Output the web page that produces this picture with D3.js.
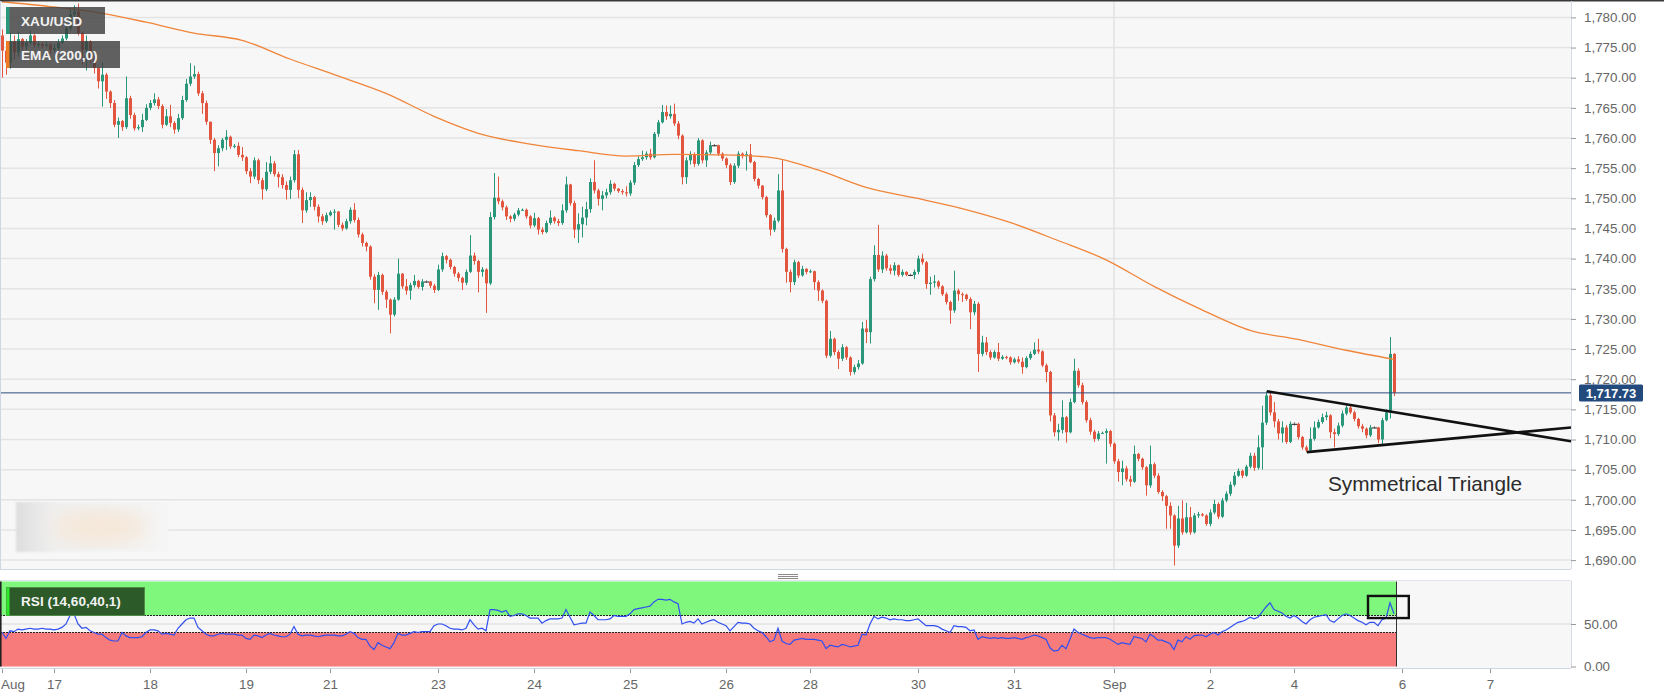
<!DOCTYPE html>
<html>
<head>
<meta charset="utf-8">
<style>
html, body { margin: 0; padding: 0; background: #fff; }
svg { display: block; font-family: "Liberation Sans", Arial, sans-serif; }
</style>
<script src="https://d3js.org/d3.v7.min.js"></script>
</head>
<body>
<svg id="chart" width="1664" height="698"></svg>
<script>
// XAU/USD hourly, EMA(200) and RSI(14)
const firstOpen = 1777.0;
const closes = [
  1774.5,1772.5,1776.0,1774.2,1776.4,1775.2,1775.8,1777.0,1775.4,1775.6, // 0
  1775.3,1775.5,1774.6,1774.9,1775.8,1776.5,1778.2,1780.5,1781.0,1777.4, // 10
  1774.6,1776.0,1773.2,1771.6,1769.4,1770.5,1767.7,1765.8,1762.2,1762.8, // 20
  1761.8,1766.6,1763.8,1761.6,1761.8,1763.0,1765.0,1765.8,1766.4,1765.3, // 30
  1762.2,1763.6,1762.5,1761.4,1763.3,1766.3,1769.0,1770.2,1770.6,1767.4, // 40
  1765.8,1762.7,1759.7,1757.5,1758.3,1759.7,1760.2,1758.6,1758.7,1757.2, // 50
  1756.8,1754.5,1753.6,1756.3,1753.0,1751.5,1754.4,1755.8,1754.0,1753.5, // 60
  1752.2,1751.4,1753.0,1757.3,1751.4,1748.0,1749.7,1750.2,1748.6,1747.0, // 70
  1746.2,1747.2,1747.7,1747.8,1745.6,1745.0,1746.2,1748.1,1746.4,1744.0, // 80
  1742.6,1742.0,1737.0,1734.8,1737.3,1734.5,1733.2,1730.7,1733.2,1737.5, // 90
  1735.4,1734.7,1735.6,1736.3,1735.3,1736.2,1736.2,1735.5,1734.8,1738.2, // 100
  1740.4,1739.8,1738.6,1737.5,1736.8,1736.0,1737.8,1740.5,1739.6,1737.8, // 110
  1738.2,1735.9,1746.9,1750.1,1749.5,1748.5,1747.0,1746.6,1747.3,1748.0, // 120
  1748.1,1747.0,1745.5,1746.7,1744.8,1744.4,1745.9,1746.8,1746.2,1745.9, // 130
  1748.0,1752.3,1749.2,1744.8,1745.7,1746.8,1748.2,1752.7,1751.3,1749.9, // 140
  1750.5,1751.0,1752.4,1751.6,1751.2,1751.0,1750.8,1752.6,1755.5,1756.5, // 150
  1756.8,1757.4,1756.8,1760.7,1762.6,1764.3,1763.6,1764.0,1762.4,1760.4, // 160
  1753.5,1756.3,1757.3,1755.7,1759.6,1756.3,1757.6,1758.8,1758.8,1757.4, // 170
  1756.6,1755.5,1752.7,1755.4,1757.4,1757.0,1757.3,1756.0,1753.2,1752.1, // 180
  1750.2,1747.2,1744.8,1746.3,1751.3,1741.6,1737.8,1736.1,1739.4,1737.2, // 190
  1738.3,1737.8,1737.9,1736.1,1734.7,1733.0,1723.9,1726.7,1724.5,1723.4, // 200
  1725.3,1723.6,1721.2,1722.0,1722.6,1728.4,1727.8,1736.6,1740.6,1738.2, // 210
  1740.5,1738.4,1738.0,1738.9,1737.3,1737.8,1737.3,1737.3,1737.8,1740.0, // 220
  1739.4,1735.8,1736.0,1736.2,1735.4,1734.1,1732.8,1731.4,1734.7,1734.1, // 230
  1734.0,1733.3,1731.1,1732.5,1724.2,1726.1,1724.5,1723.6,1724.5,1723.4, // 240
  1723.7,1723.6,1722.8,1723.3,1722.9,1722.0,1723.5,1724.2,1724.9,1724.6, // 250
  1722.3,1721.2,1714.0,1711.2,1711.6,1713.7,1711.2,1716.2,1721.4,1719.0, // 260
  1716.2,1713.2,1711.3,1710.1,1711.0,1711.1,1711.4,1709.3,1706.4,1704.6, // 270
  1705.2,1703.4,1703.0,1707.6,1706.8,1705.4,1702.4,1705.9,1704.0,1701.3, // 280
  1700.6,1699.0,1697.4,1692.4,1696.9,1694.6,1697.1,1694.6,1697.4,1697.6, // 290
  1697.4,1696.0,1697.9,1699.3,1697.2,1699.9,1701.0,1702.5,1704.0,1704.8, // 300
  1704.0,1705.5,1707.3,1705.3,1708.7,1712.8,1717.3,1714.5,1713.0,1711.0, // 310
  1712.0,1709.6,1712.6,1712.6,1710.4,1708.7,1708.2,1710.1,1712.0,1712.9, // 320
  1713.7,1714.0,1711.2,1710.9,1712.3,1714.3,1715.3,1714.5,1713.4,1712.2, // 330
  1711.8,1710.7,1712.0,1712.0,1710.0,1713.2,1714.5,1724.2,1717.73        // 340
];
const highs = [
  1778.0,1775.0,1777.5,1777.0,1777.6,1776.6,1776.4,1777.8,1777.2,1776.0,
  1775.8,1775.9,1775.8,1775.6,1776.4,1777.0,1778.6,1781.5,1782.0,1782.3,
  1777.6,1777.0,1776.2,1773.6,1771.8,1772.5,1770.8,1767.9,1766.3,1763.4,
  1763.0,1770.2,1767.0,1764.2,1762.2,1764.0,1765.6,1766.3,1767.4,1766.8,
  1765.6,1764.8,1765.5,1762.8,1764.0,1767.0,1769.8,1772.4,1772.0,1771.0,
  1767.8,1766.2,1762.2,1760.0,1758.8,1760.0,1761.3,1760.4,1759.0,1759.3,
  1758.5,1757.0,1755.0,1756.8,1756.6,1753.4,1756.0,1757.0,1756.2,1754.4,
  1754.0,1752.8,1753.6,1758.0,1758.0,1751.8,1751.0,1751.0,1750.4,1749.0,
  1747.4,1747.6,1748.0,1748.2,1747.9,1746.0,1746.6,1748.5,1749.2,1746.8,
  1744.3,1742.8,1742.2,1737.4,1737.8,1737.5,1734.8,1733.4,1733.6,1740.0,
  1737.6,1736.6,1736.0,1737.3,1736.5,1736.6,1736.4,1736.3,1735.8,1739.0,
  1741.0,1740.6,1740.0,1738.8,1737.8,1737.0,1738.2,1743.9,1741.0,1739.8,
  1738.6,1738.4,1747.7,1754.2,1753.6,1749.8,1748.8,1747.2,1747.6,1748.4,
  1748.3,1748.3,1747.2,1747.6,1746.9,1745.2,1746.3,1748.0,1747.0,1746.6,
  1749.0,1753.6,1752.4,1749.6,1747.5,1748.6,1749.4,1753.3,1756.3,1751.6,
  1751.2,1751.6,1753.0,1752.6,1751.7,1751.5,1752.0,1753.0,1756.0,1757.0,
  1757.9,1757.8,1758.2,1761.0,1763.0,1765.5,1765.4,1765.4,1765.7,1762.8,
  1760.6,1756.8,1757.8,1757.6,1760.0,1759.8,1758.0,1759.4,1759.0,1758.9,
  1757.6,1756.8,1755.8,1755.8,1757.8,1757.6,1757.8,1759.0,1756.2,1753.4,
  1752.2,1750.4,1747.4,1746.8,1754.0,1756.3,1741.8,1738.2,1739.8,1739.6,
  1738.8,1738.4,1738.2,1738.0,1736.4,1734.9,1733.2,1728.0,1726.9,1724.8,
  1725.8,1725.5,1723.8,1722.4,1723.2,1729.5,1729.8,1737.0,1742.2,1745.6,
  1741.2,1740.8,1739.0,1739.4,1739.0,1738.2,1737.9,1737.5,1738.2,1740.5,
  1740.8,1739.6,1737.0,1737.3,1736.4,1735.6,1734.4,1733.0,1738.0,1735.0,
  1734.4,1734.2,1733.6,1733.0,1732.8,1727.2,1727.0,1724.8,1724.8,1726.0,
  1724.0,1723.9,1723.8,1723.6,1723.8,1723.6,1723.8,1724.6,1726.1,1726.7,
  1724.8,1722.6,1721.4,1714.4,1712.6,1716.5,1713.9,1716.8,1723.4,1721.8,
  1719.4,1716.5,1713.6,1711.6,1711.4,1711.3,1711.8,1711.6,1709.5,1706.8,
  1706.5,1705.6,1704.0,1709.0,1707.8,1707.0,1705.6,1709.0,1706.2,1704.4,
  1701.6,1700.8,1699.6,1697.6,1699.0,1699.9,1699.5,1698.8,1697.8,1698.0,
  1697.8,1697.6,1698.4,1700.0,1699.6,1700.3,1701.4,1703.0,1704.6,1705.2,
  1705.0,1705.8,1707.8,1707.8,1710.7,1715.6,1718.0,1717.8,1716.2,1713.4,
  1713.0,1712.4,1713.0,1712.9,1712.8,1710.6,1709.0,1712.0,1713.0,1713.3,
  1714.3,1714.6,1714.2,1711.8,1712.8,1714.8,1715.9,1715.6,1714.8,1713.6,
  1712.6,1712.0,1712.4,1712.2,1712.1,1713.6,1715.0,1727.0,1724.3
];
const lows = [
  1770.0,1770.5,1771.5,1773.0,1773.5,1774.2,1774.6,1775.4,1775.0,1775.0,
  1774.9,1775.1,1774.0,1774.2,1774.5,1775.6,1776.2,1777.8,1780.0,1777.0,
  1772.2,1771.2,1772.4,1770.7,1768.2,1765.2,1766.5,1765.0,1761.8,1760.0,
  1761.2,1761.5,1763.2,1761.2,1761.3,1761.0,1762.8,1764.6,1765.4,1764.8,
  1761.6,1762.0,1761.8,1760.7,1761.0,1763.0,1766.0,1768.6,1769.8,1767.0,
  1764.0,1762.2,1759.0,1754.5,1755.3,1757.8,1758.0,1758.2,1758.3,1756.8,
  1756.2,1754.0,1752.5,1753.2,1752.4,1749.8,1751.2,1754.0,1753.6,1751.8,
  1751.6,1749.8,1749.9,1752.6,1750.0,1745.9,1747.6,1748.6,1748.0,1746.0,
  1745.6,1745.9,1747.0,1744.8,1745.2,1744.6,1744.8,1745.8,1746.0,1743.5,
  1742.0,1741.2,1736.5,1732.6,1731.5,1734.0,1731.8,1727.6,1730.4,1733.0,
  1735.0,1734.0,1733.2,1735.2,1735.0,1734.7,1736.0,1735.1,1734.3,1734.6,
  1737.8,1739.2,1738.2,1737.0,1736.2,1734.8,1735.6,1737.6,1739.0,1734.4,
  1737.0,1731.0,1735.6,1746.5,1749.0,1748.0,1746.4,1746.0,1746.2,1747.0,
  1747.9,1746.6,1745.0,1745.2,1744.0,1744.0,1744.2,1745.6,1745.8,1745.4,
  1745.6,1747.6,1748.8,1743.4,1742.6,1743.5,1745.5,1747.6,1750.8,1748.8,
  1748.0,1750.0,1750.6,1751.2,1750.9,1750.6,1750.3,1750.4,1752.2,1755.2,
  1756.2,1756.4,1756.4,1756.6,1760.2,1762.4,1763.0,1763.2,1762.0,1759.8,
  1752.3,1752.4,1755.6,1755.2,1755.4,1755.8,1755.2,1757.2,1758.6,1757.0,
  1756.2,1755.0,1752.2,1752.4,1755.0,1756.6,1754.6,1755.8,1752.8,1751.6,
  1749.8,1746.8,1743.8,1744.4,1746.0,1741.0,1736.0,1734.4,1735.6,1736.8,
  1737.0,1737.4,1737.6,1734.8,1733.0,1732.6,1723.5,1723.6,1724.0,1721.7,
  1723.0,1723.2,1720.6,1720.8,1721.6,1722.4,1726.0,1725.9,1736.2,1737.8,
  1737.6,1738.0,1737.4,1737.2,1737.0,1737.0,1737.1,1737.1,1736.6,1737.4,
  1739.0,1735.0,1734.0,1735.2,1735.0,1733.8,1732.4,1729.2,1731.0,1733.0,
  1732.8,1733.0,1728.3,1730.6,1721.2,1723.8,1724.0,1723.2,1723.4,1723.0,
  1723.2,1723.3,1722.4,1722.6,1722.6,1720.9,1721.8,1723.2,1724.0,1724.2,
  1722.0,1719.5,1713.0,1710.5,1709.8,1711.0,1709.5,1711.0,1716.0,1718.6,
  1715.8,1712.8,1710.8,1709.6,1709.8,1710.9,1706.0,1708.8,1706.0,1703.0,
  1702.4,1703.0,1702.2,1702.8,1706.4,1705.0,1700.7,1702.0,1703.6,1701.0,
  1699.8,1695.2,1695.2,1689.1,1692.0,1694.2,1694.4,1694.2,1694.4,1697.0,
  1697.2,1695.7,1695.6,1697.6,1696.8,1697.0,1699.6,1700.6,1702.2,1703.8,
  1703.6,1703.8,1705.2,1704.8,1705.0,1705.0,1712.4,1714.0,1712.0,1710.0,
  1709.5,1709.3,1709.4,1712.3,1710.0,1708.3,1707.9,1708.0,1709.8,1711.8,
  1712.6,1713.2,1710.2,1708.7,1710.6,1712.0,1714.0,1714.2,1713.0,1711.8,
  1711.2,1710.2,1710.4,1711.8,1709.4,1709.2,1713.0,1713.5,1717.2
];
// EMA(200), one reading every 12 candles
const emaStep = 12;
const emaValues = [
  1782.6,1781.8,1780.8,1779.2,1777.4,1776.2,1773.1,1770.3,1767.4,1763.6,
  1760.6,1759.0,1757.9,1757.0,1757.3,1757.2,1756.8,1754.7,1751.8,1750.1,
  1748.3,1746.0,1743.0,1739.8,1735.4,1731.5,1728.1,1726.6,1724.8,1723.3
];
// RSI(14), one reading per candle
const rsiValues = [
  40,33,42,41,44,43,44,45,44,44, 45,44,44,43,44,46,50,60,62,50,
  45,46,42,40,38,38,34,31,30,30, 40,36,34,34,34,35,40,43,43,42,
  38,39,38,37,45,50,55,57,57,46, 42,38,36,36,38,39,38,38,38,37,
  37,33,32,37,36,34,37,39,37,36, 35,35,38,47,38,36,37,37,36,35,
  36,37,37,37,36,36,38,41,39,34, 32,32,24,20,28,25,23,21,28,39,
  37,37,39,41,40,41,41,41,48,50, 50,48,45,44,44,43,45,55,49,44,
  45,42,67,67,66,64,66,59,60,62, 62,60,57,57,57,51,54,56,56,56,
  57,67,58,49,50,51,51,64,60,55, 55,55,56,60,59,59,59,62,67,68,
  69,70,71,76,79,79,78,79,76,74, 50,52,53,51,56,50,52,54,55,52,
  50,48,42,47,52,51,51,50,45,42, 40,35,29,31,45,30,27,26,31,32,
  33,32,32,32,31,30,21,25,24,23, 26,25,23,24,25,38,37,50,59,56,
  58,57,55,56,55,55,54,54,55,56, 52,48,48,48,47,44,42,40,48,47,
  47,46,42,43,32,35,34,33,34,33, 34,33,33,34,33,32,34,35,37,36,
  34,32,22,18,19,25,21,32,44,40, 38,36,34,33,34,34,34,32,29,26,
  28,27,26,35,34,33,29,38,35,31, 31,29,27,20,31,29,35,32,36,37,
  37,35,38,40,37,41,43,46,49,52, 53,55,58,56,58,64,70,75,67,65,
  63,59,57,60,57,53,50,55,58,59, 60,61,54,52,56,60,62,60,57,54,
  52,49,52,52,48,55,57,75,62
];
const dayTicks  = [13, 37, 61, 82, 109, 133, 157, 181, 202, 229, 253, 278, 302, 323, 350, 372];
const dayLabels = ['17','18','19','21','23','24','25','26','28','30','31','Sep','2','4','6','7'];
const monthTick = 278;
const priceTicks = [1690,1695,1700,1705,1710,1715,1720,1725,1730,1735,1740,1745,1750,1755,1760,1765,1770,1775,1780];
const rsiTicks = [0, 50];
const rsiUpper = 60, rsiLower = 40;
const lastPrice = 1717.73;
const triangleUpper = [[316.2, 1718.0], [392.25, 1709.7]];
const triangleLower = [[326.2, 1707.9], [392.25, 1712.0]];
const triangleLabel = {text: 'Symmetrical Triangle', i: 331.5, price: 1701.4};

const green = '#2a977a', red = '#e2563f';
const plotRight = 1571, priceBottom = 569, rsiTop = 581, rsiBottom = 668;

const svg = d3.select('#chart');
const x = d3.scaleLinear().domain([0, 392.25]).range([2, plotRight]);
const y = d3.scaleLinear().domain([1690, 1780]).range([560.1, 17.4]);
const yr = d3.scaleLinear().domain([0, 100]).range([666.5, 581.5]);

const defs = svg.append('defs');
defs.append('clipPath').attr('id', 'clipPrice').append('rect')
    .attr('x', 0).attr('y', 1).attr('width', plotRight).attr('height', priceBottom - 1);
defs.append('clipPath').attr('id', 'clipRsi').append('rect')
    .attr('x', 0).attr('y', rsiTop).attr('width', plotRight).attr('height', rsiBottom - rsiTop);
defs.append('filter').attr('id', 'blur').append('feGaussianBlur').attr('stdDeviation', 9);
defs.append('filter').attr('id', 'blurS').append('feGaussianBlur').attr('stdDeviation', 1.2);
const wmGrad = defs.append('linearGradient').attr('id', 'wmGrad');
wmGrad.append('stop').attr('offset', '0').attr('stop-color', '#dedede');
wmGrad.append('stop').attr('offset', '0.25').attr('stop-color', '#efefef');
wmGrad.append('stop').attr('offset', '1').attr('stop-color', '#f5f5f5');

// panels
svg.append('rect').attr('x', 0).attr('y', 0).attr('width', plotRight).attr('height', priceBottom).attr('fill', '#f7f7f7');
svg.append('rect').attr('x', 0).attr('y', rsiTop).attr('width', plotRight).attr('height', rsiBottom - rsiTop).attr('fill', '#f7f7f7');

//Rejilla
svg.append('g').selectAll('line').data(priceTicks).join('line')
    .attr('x1', 0).attr('x2', plotRight)
    .attr('y1', d => y(d)).attr('y2', d => y(d))
    .attr('stroke', '#e4e4e4').attr('stroke-width', 1.5);
[[1, priceBottom], [rsiTop, rsiBottom]].forEach(r => {
    svg.append('line').attr('x1', x(monthTick)).attr('x2', x(monthTick))
        .attr('y1', r[0]).attr('y2', r[1]).attr('stroke', '#e2e2e2').attr('stroke-width', 1.5);
});

// blurred watermark
const wm = svg.append('g');
wm.append('rect').attr('x', 16).attr('y', 502).attr('width', 152).attr('height', 50).attr('fill', 'url(#wmGrad)').attr('filter', 'url(#blurS)');
wm.append('ellipse').attr('cx', 100).attr('cy', 527).attr('rx', 48).attr('ry', 18).attr('fill', '#f5e8da').attr('filter', 'url(#blur)');

//Velas
const candles = closes.map((c, i) => ({i, o: i === 0 ? firstOpen : closes[i - 1], c, h: highs[i], l: lows[i]}));
const isDoji = d => Math.abs(d.c - d.o) < 0.05;
const colorOf = d => isDoji(d) ? '#333' : (d.c > d.o ? green : red);
const cx = d => Math.round(x(d.i));

const gP = svg.append('g').attr('clip-path', 'url(#clipPrice)');
gP.selectAll('line.wick').data(candles).join('line')
    .attr('class', 'wick')
    .attr('x1', d => cx(d) + 0.5).attr('x2', d => cx(d) + 0.5)
    .attr('y1', d => y(Math.max(d.h, d.o, d.c))).attr('y2', d => y(Math.min(d.l, d.o, d.c)))
    .attr('stroke', d => isDoji(d) ? '#888' : colorOf(d)).attr('stroke-width', 1);
gP.selectAll('rect.body').data(candles.filter(d => !isDoji(d))).join('rect')
    .attr('class', 'body')
    .attr('x', d => cx(d) - 1).attr('width', 3)
    .attr('y', d => y(Math.max(d.o, d.c)))
    .attr('height', d => Math.max(1, Math.abs(y(d.o) - y(d.c))))
    .attr('fill', colorOf);
gP.selectAll('line.doji').data(candles.filter(isDoji)).join('line')
    .attr('class', 'doji')
    .attr('x1', d => cx(d) - 2).attr('x2', d => cx(d) + 3)
    .attr('y1', d => y(d.c) + 0.5).attr('y2', d => y(d.c) + 0.5)
    .attr('stroke', '#222').attr('stroke-width', 1);

// EMA
gP.append('path').datum(emaValues)
    .attr('d', d3.line().x((d, k) => x(k * emaStep)).y(d => y(d)).curve(d3.curveMonotoneX))
    .attr('fill', 'none').attr('stroke', '#f0853a').attr('stroke-width', 1.3);

// last price line
gP.append('line').attr('x1', 0).attr('x2', plotRight)
    .attr('y1', y(lastPrice)).attr('y2', y(lastPrice))
    .attr('stroke', '#2d4b7d').attr('stroke-width', 1);

// triangle
[triangleUpper, triangleLower].forEach(t => {
    gP.append('path').datum(t)
        .attr('d', d3.line().x(d => x(d[0])).y(d => y(d[1])))
        .attr('stroke', '#111').attr('stroke-width', 2.6).attr('fill', 'none');
});
svg.append('text').attr('x', x(triangleLabel.i)).attr('y', y(triangleLabel.price))
    .attr('font-size', 20.8).attr('fill', '#2b2b2b').text(triangleLabel.text);

// legend boxes
function legend(yTop, w, sw, label) {
    const g = svg.append('g');
    g.append('rect').attr('x', 6).attr('y', yTop).attr('width', w).attr('height', 27).attr('fill', 'rgba(62,62,62,0.82)');
    g.append('rect').attr('x', 6).attr('y', yTop).attr('width', 3.5).attr('height', 27).attr('fill', sw);
    g.append('text').attr('x', 21).attr('y', yTop + 18.5).attr('fill', '#f2f2f2')
        .attr('font-size', 13.6).attr('font-weight', 'bold').text(label);
}
legend(7, 99, green, 'XAU/USD');
legend(41, 114, '#f07a22', 'EMA (200,0)');

// panel borders
svg.append('rect').attr('x', 0).attr('y', 0).attr('width', 1664).attr('height', 1.5).attr('fill', '#3a3a3a');
svg.append('line').attr('x1', 0.5).attr('x2', 0.5).attr('y1', 1).attr('y2', priceBottom).attr('stroke', '#cfd6e4');
svg.append('line').attr('x1', 0).attr('x2', plotRight).attr('y1', priceBottom + 0.5).attr('y2', priceBottom + 0.5).attr('stroke', '#cfd6e4');
svg.append('line').attr('x1', plotRight + 0.5).attr('x2', plotRight + 0.5).attr('y1', 1).attr('y2', priceBottom).attr('stroke', '#d6dce8');

// handle
[574.5, 576.5, 578.5].forEach(v => svg.append('line').attr('x1', 778).attr('x2', 798).attr('y1', v).attr('y2', v).attr('stroke', '#8a8a8a'));

// price axis
const axP = svg.append('g').attr('transform', `translate(${plotRight},0)`)
    .call(d3.axisRight(y).tickValues(priceTicks).tickFormat(d3.format(',.2f')).tickSize(5).tickPadding(8));
axP.select('.domain').remove();
axP.selectAll('line').attr('stroke', '#9a9a9a');
axP.selectAll('text').attr('fill', '#666').attr('font-size', 13.4).attr('font-family', '"Liberation Sans", Arial, sans-serif');

// last price tag
const tag = svg.append('g').attr('transform', `translate(1579,${y(lastPrice)})`);
tag.append('rect').attr('x', 0).attr('y', -8.5).attr('width', 64).attr('height', 17).attr('rx', 1.5).attr('fill', '#234a7c');
tag.append('text').attr('x', 32).attr('y', 5).attr('text-anchor', 'middle').attr('fill', '#fff')
    .attr('font-size', 13).attr('font-weight', 'bold').text(d3.format(',.2f')(lastPrice));

//RSI
const lastX = cx(candles[candles.length - 1]) + 2;
const gR = svg.append('g').attr('clip-path', 'url(#clipRsi)');
gR.append('rect').attr('x', 0).attr('y', yr(100)).attr('width', lastX).attr('height', yr(rsiUpper) - yr(100)).attr('fill', '#7ef77c');
gR.append('rect').attr('x', 0).attr('y', yr(rsiLower)).attr('width', lastX).attr('height', yr(0) - yr(rsiLower)).attr('fill', '#f87b7b');
gR.append('line').attr('x1', 0).attr('x2', plotRight).attr('y1', yr(50)).attr('y2', yr(50)).attr('stroke', '#e2e2e2').attr('stroke-width', 1.5);
[rsiUpper, rsiLower].forEach(v => {
    gR.append('line').attr('x1', 0).attr('x2', lastX).attr('y1', yr(v)).attr('y2', yr(v))
        .attr('stroke', '#222').attr('stroke-dasharray', '2,1').attr('stroke-width', 1);
});
gR.append('line').attr('x1', lastX + 0.5).attr('x2', lastX + 0.5).attr('y1', yr(100)).attr('y2', yr(0)).attr('stroke', '#333');
gR.append('line').attr('x1', 0.8).attr('x2', 0.8).attr('y1', yr(100)).attr('y2', yr(0)).attr('stroke', '#222').attr('stroke-width', 1.6);
gR.append('path').datum(rsiValues)
    .attr('d', d3.line().x((d, i) => x(i)).y(d => yr(d)))
    .attr('fill', 'none').attr('stroke', '#2f4ff0').attr('stroke-width', 1.2);

// highlight box at the end of RSI
svg.append('rect').attr('x', x(341.5)).attr('y', yr(83)).attr('width', x(351.7) - x(341.5)).attr('height', yr(57) - yr(83))
    .attr('fill', 'none').attr('stroke', '#111').attr('stroke-width', 2.4);

// RSI legend
const rl = svg.append('g');
rl.append('rect').attr('x', 6.5).attr('y', 587.5).attr('width', 138).attr('height', 28).attr('fill', '#2c5a28').attr('stroke', '#4f8a48');
rl.append('rect').attr('x', 6.5).attr('y', 587.5).attr('width', 3).attr('height', 28).attr('fill', '#2ee82a');
rl.append('text').attr('x', 21).attr('y', 606).attr('fill', '#f2f2f2').attr('font-size', 13.6).attr('font-weight', 'bold').text('RSI (14,60,40,1)');

svg.append('line').attr('x1', 0).attr('x2', plotRight).attr('y1', rsiTop - 0.5).attr('y2', rsiTop - 0.5).attr('stroke', '#e0e4ec');
svg.append('line').attr('x1', 0).attr('x2', plotRight).attr('y1', rsiBottom + 0.5).attr('y2', rsiBottom + 0.5).attr('stroke', '#cfd6e4');
svg.append('line').attr('x1', plotRight + 0.5).attr('x2', plotRight + 0.5).attr('y1', rsiTop).attr('y2', rsiBottom).attr('stroke', '#d6dce8');

const axR = svg.append('g').attr('transform', `translate(${plotRight},0)`)
    .call(d3.axisRight(yr).tickValues(rsiTicks).tickFormat(d3.format('.2f')).tickSize(5).tickPadding(8));
axR.select('.domain').remove();
axR.selectAll('line').attr('stroke', '#9a9a9a');
axR.selectAll('text').attr('fill', '#666').attr('font-size', 13.4).attr('font-family', '"Liberation Sans", Arial, sans-serif');

// time axis
const axT = svg.append('g').attr('transform', `translate(0,${rsiBottom + 1})`)
    .call(d3.axisBottom(x).tickValues(dayTicks).tickFormat((d, i) => dayLabels[i]).tickSize(4).tickPadding(6));
axT.select('.domain').remove();
axT.selectAll('line').attr('stroke', '#9a9a9a');
axT.selectAll('text').attr('fill', '#666').attr('font-size', 13.4).attr('font-family', '"Liberation Sans", Arial, sans-serif');
svg.append('line').attr('x1', 2.5).attr('x2', 2.5).attr('y1', rsiBottom + 1).attr('y2', rsiBottom + 5).attr('stroke', '#9a9a9a');
svg.append('text').attr('x', 1).attr('y', rsiBottom + 1 + 10 + 0.71 * 13.4).attr('fill', '#666').attr('font-size', 13.4).text('Aug');
</script>
</body>
</html>
